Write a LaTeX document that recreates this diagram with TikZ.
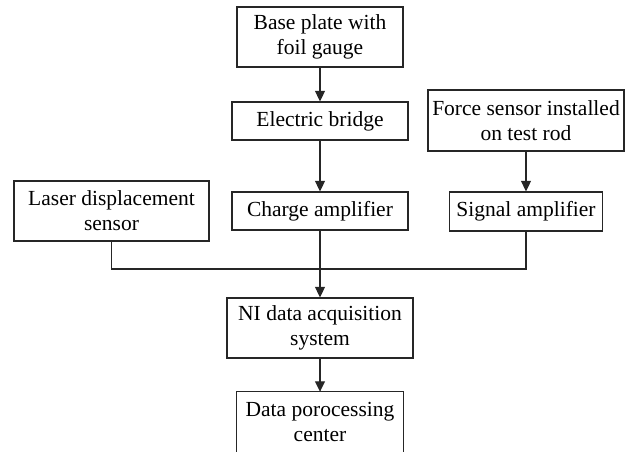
\documentclass[tikz,border=0pt]{standalone}
\usepackage{fontspec}
\setmainfont{Liberation Serif}
\usetikzlibrary{arrows.meta}

\begin{document}
\begin{tikzpicture}[x=1pt,y=-1pt,
  box/.style={draw=black!85,line width=1.3pt,align=center,inner sep=0pt,
    font=\fontsize{21.5}{25}\selectfont,text=black},
  openbox/.style={align=center,inner sep=0pt,
    font=\fontsize{21.5}{25}\selectfont,text=black},
  wire/.style={draw=black!85,line width=1.3pt},
  arr/.style={wire,-{Triangle[length=10.5pt,width=10pt]}}]
  \useasboundingbox (0,0) rectangle (627,451);
  \clip (0,0) rectangle (627,451);

  % boxes
  \node[box,minimum width=166pt,minimum height=60pt] (base)   at (320,37)    {Base plate with\\foil gauge};
  \node[box,minimum width=176pt,minimum height=38pt] (bridge) at (320,121)   {Electric bridge};
  \node[box,minimum width=196pt,minimum height=61pt] (force)  at (526,120.5) {Force sensor installed\\on test rod};
  \node[box,minimum width=195pt,minimum height=60pt] (laser)  at (111.5,211) {Laser displacement\\sensor};
  \node[box,minimum width=176pt,minimum height=38pt] (charge) at (320,211)   {Charge amplifier};
  \node[box,minimum width=153pt,minimum height=39pt] (signal) at (526,211.5) {Signal amplifier};
  \node[box,minimum width=186pt,minimum height=60pt] (ni)     at (320,328)   {NI data acquisition\\system};
  \node[openbox,minimum width=166pt,minimum height=60pt] (data) at (320,422) {Data porocessing\\center};
  % last box runs off the lower edge: no bottom side
  \draw[wire] (data.south west) -- (data.north west) -- (data.north east) -- (data.south east);

  % junction of the three sensor chains
  \coordinate (bus) at (320,269);

  % connectors
  \draw[arr] (base.south) -- (bridge.north);
  \draw[arr] (bridge.south) -- (charge.north);
  \draw[arr] (force.south) -- (force.south |- signal.north);
  \draw[arr] (charge.south) -- (ni.north);
  \draw[wire] (laser.south) -- (laser.south |- bus) -- (signal.south |- bus) -- (signal.south);
  \draw[arr] (ni.south) -- (data.north);
\end{tikzpicture}
\end{document}
